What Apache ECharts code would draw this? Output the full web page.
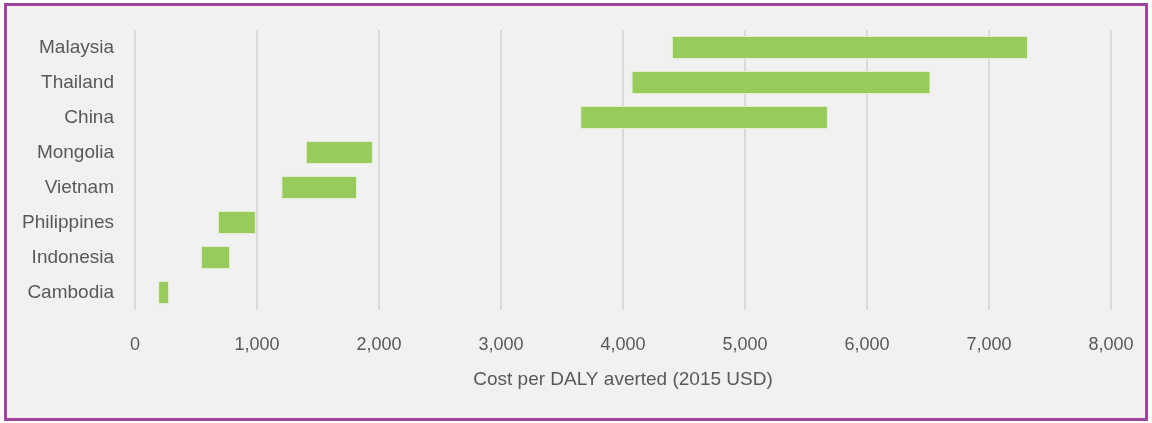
<!DOCTYPE html>
<html>
<head>
<meta charset="utf-8">
<script src="https://cdn.jsdelivr.net/npm/echarts@6/dist/echarts.min.js"></script>
<style>
  html, body { margin: 0; padding: 0; background: #ffffff; }
  /* 外框 */
  .frame {
    position: absolute; left: 4px; top: 3px;
    width: 1138px; height: 412px;
    border: 3px solid #a3449f;
    background: #f1f1f1;
  }
  #main {
    position: absolute; left: 0; top: 0;
    width: 1152px; height: 423px;
  }
</style>
</head>
<body>
<div class="frame"></div>
<div id="main"></div>
<script>
// 国家（从上到下）
var countries = ['Malaysia', 'Thailand', 'China', 'Mongolia', 'Vietnam', 'Philippines', 'Indonesia', 'Cambodia'];
// 区间下限 / 上限
var lowValues = [4400, 4070, 3650, 1400, 1200, 680, 540, 190];
var highValues = [7320, 6520, 5680, 1950, 1820, 990, 780, 280];
// x轴刻度
var xMin = 0;
var xMax = 8000;
var xStep = 1000;

var spanValues = highValues.map(function (v, i) { return v - lowValues[i]; });

var myChart = echarts.init(document.getElementById('main'));
var font = 'Liberation Sans, Arial, sans-serif';
var textColor = '#595959';

myChart.setOption({
  backgroundColor: 'transparent',
  animation: false,
  grid: { left: 135, right: 41, top: 30, bottom: 113 },
  xAxis: {
    type: 'value',
    min: xMin,
    max: xMax,
    interval: xStep,
    name: 'Cost per DALY averted (2015 USD)',
    nameLocation: 'middle',
    nameGap: 60,
    nameTextStyle: { fontFamily: font, fontSize: 19, color: textColor },
    axisLine: { show: false },
    axisTick: { show: false },
    axisLabel: {
      margin: 26,
      fontFamily: font,
      fontSize: 18,
      color: textColor,
      formatter: function (v) { return v.toLocaleString('en-US'); }
    },
    splitLine: { show: true, lineStyle: { color: '#d9d9d9', width: 2 } }
  },
  yAxis: {
    type: 'category',
    inverse: true,
    data: countries,
    axisLine: { show: false },
    axisTick: { show: false },
    axisLabel: { margin: 21, fontFamily: font, fontSize: 19, color: textColor }
  },
  series: [
    {
      name: 'base',
      type: 'bar',
      stack: 'range',
      silent: true,
      itemStyle: { color: 'transparent' },
      barWidth: '66%',
      data: lowValues
    },
    {
      name: 'range',
      type: 'bar',
      stack: 'range',
      barWidth: '66%',
      itemStyle: { color: '#99ca5c', borderColor: '#e4f0d6', borderWidth: 1 },
      data: spanValues
    }
  ]
});
</script>
</body>
</html>
